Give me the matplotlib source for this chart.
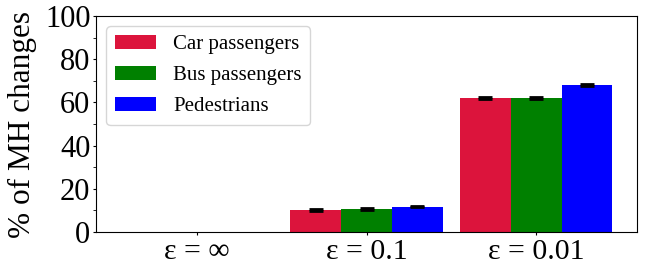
import numpy as np
import matplotlib
matplotlib.use("Agg")
import matplotlib.pyplot as plt
from matplotlib.ticker import MultipleLocator

plt.rcParams['font.family'] = ['Liberation Serif', 'DejaVu Serif']

categories = ['ε = ∞', 'ε = 0.1', 'ε = 0.01']
series = ['Car passengers', 'Bus passengers', 'Pedestrians']
colors = ['#DC143C', '#008000', '#0000FF']
car = [0.0, 10.2, 62.0]
bus = [0.0, 10.6, 62.0]
ped = [0.0, 11.8, 68.0]
car_err = [0.0, 0.3, 0.3]
bus_err = [0.0, 0.3, 0.3]
ped_err = [0.0, 0.3, 0.3]

fig = plt.figure(figsize=(6.49, 2.66), dpi=100)
ax = fig.add_axes([96/649, 1-232/266, (637-96)/649, (232-16)/266])

x = np.arange(len(categories))
w = 0.3
for i, (vals, errs, lab, c) in enumerate(zip([car, bus, ped], [car_err, bus_err, ped_err], series, colors)):
    xs = x + (i-1)*w
    ax.bar(xs, vals, w, color=c, label=lab)
    vals = np.array(vals); errs = np.array(errs)
    m = vals > 0
    ax.errorbar(xs[m], vals[m], yerr=errs[m], fmt='none', ecolor='black',
                capsize=5, capthick=2, elinewidth=1)

ax.set_ylim(0, 100)
ax.yaxis.set_major_locator(MultipleLocator(20))
ax.yaxis.set_minor_locator(MultipleLocator(10))
ax.set_xticks(x)
ax.set_xticklabels(categories, fontsize=21.5)
ax.tick_params(axis='y', labelsize=22, length=2, pad=2)
ax.tick_params(axis='y', which='minor', length=2)
ax.tick_params(axis='x', length=2, pad=3)
ax.set_ylabel('% of MH changes', fontsize=22.5, labelpad=6)
ax.legend(loc='upper left', fontsize=15, handlelength=2.0, borderpad=0.4,
          labelspacing=0.55, handletextpad=0.8, bbox_to_anchor=(0.0, 1.0))

fig.savefig('out.png', dpi=100)
